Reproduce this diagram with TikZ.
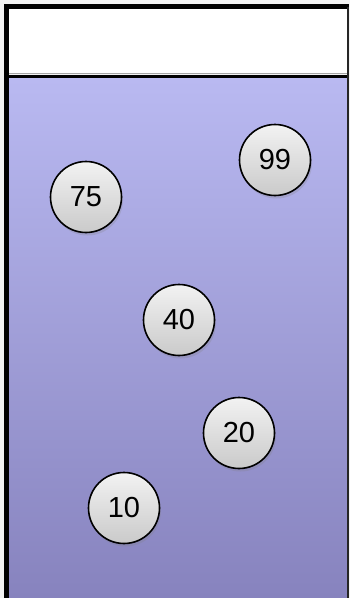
\documentclass[tikz,border=0pt]{standalone}
\usepackage{fontspec}
\setmainfont{Liberation Sans}
\usetikzlibrary{shadows}
\definecolor{bgc}{HTML}{F2F2F2}
\definecolor{blueTop}{HTML}{B9B9F1}
\definecolor{blueBot}{HTML}{8783BE}
\definecolor{ballTop}{HTML}{F2F2F2}
\definecolor{ballBot}{HTML}{CACACA}
\tikzset{
  ball/.style={circle, draw=black, line width=1.6pt, minimum size=71pt, inner sep=0pt,
    top color=ballTop, bottom color=ballBot,
    font=\fontsize{29}{32}\selectfont,
    drop shadow={opacity=0.25, shadow xshift=1.5pt, shadow yshift=-3pt}},
}
\begin{document}
\begin{tikzpicture}[x=1pt,y=-1pt]
\useasboundingbox (0,0) rectangle (350,598);
\fill[bgc] (0,0) rectangle (350,598);
\fill[white] (9,9) rectangle (347,74);
\shade[top color=blueTop, bottom color=blueBot] (9,78) rectangle (348,598);
\draw[gray!70, line width=1pt] (9,73.5) -- (347,73.5);
\draw[line width=3pt] (9,76.5) -- (347,76.5);
\draw[line width=5pt] (6.5,598) -- (6.5,6.5) -- (349,6.5);
\draw[black!85, line width=2pt] (348,6.5) -- (348,598);
\node[ball] (n99) at (275,160) {99};
\node[ball] (n75) at (86,197) {75};
\node[ball] (n40) at (179,320) {40};
\node[ball] (n20) at (239,433) {20};
\node[ball] (n10) at (124,508) {10};
\end{tikzpicture}
\end{document}
